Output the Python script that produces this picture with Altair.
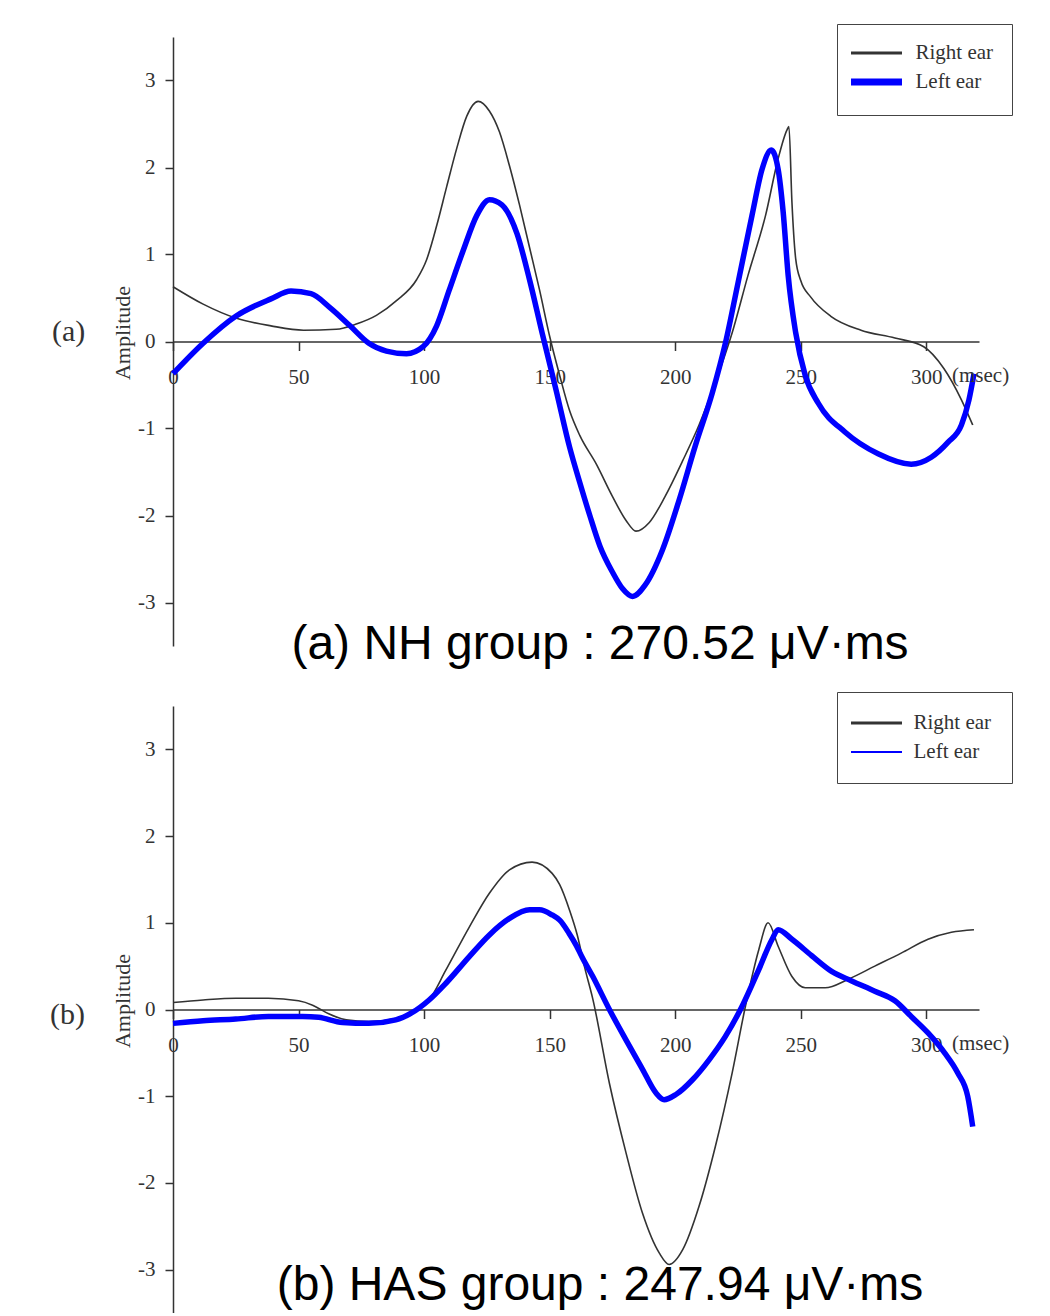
import altair as alt
import pandas as pd

# ---------------- data ----------------
# (a) NH group
a_right_ms = [0, 12, 25, 39, 52, 65, 73, 81, 89, 97, 101, 105, 109, 113, 117, 121.5, 126, 130, 134, 138,
              142, 146, 150, 154, 158, 162, 168.6, 175, 180.5, 184.4, 189.7, 196, 203, 209.5, 216, 222.7,
              229, 236, 241, 244.5, 245.3, 246.5, 248, 250, 254, 262, 274, 287.5, 299, 307, 314, 318.5]
a_right_amp = [0.63, 0.43, 0.27, 0.18, 0.13, 0.14, 0.20, 0.30, 0.47, 0.71, 0.94, 1.33, 1.78, 2.22, 2.59, 2.76,
               2.65, 2.41, 2.02, 1.57, 1.08, 0.59, 0.06, -0.39, -0.80, -1.08, -1.41, -1.78, -2.06, -2.18, -2.08,
               -1.78, -1.37, -0.96, -0.47, 0.10, 0.76, 1.45, 2.10, 2.43, 2.47, 1.60, 0.95, 0.70, 0.51, 0.29,
               0.13, 0.04, -0.06, -0.31, -0.67, -0.96]
a_left_ms = [0, 12, 25, 39, 47, 55, 62.5, 70.5, 78, 85, 93, 99.6, 105, 110, 115.5, 121, 126, 131, 137, 142,
             147, 152.5, 158, 162, 166, 170, 175, 179, 183, 188, 195, 201.6, 208, 214.8, 220, 225, 230.6, 234.6,
             238.3, 241, 243, 245, 248, 251.8, 257, 267.6, 280.8, 294, 302, 308.6, 314, 317, 319]
a_left_amp = [-0.37, -0.02, 0.29, 0.49, 0.58, 0.55, 0.39, 0.18, -0.02, -0.11, -0.14, -0.06, 0.18, 0.59, 1.04,
              1.45, 1.63, 1.57, 1.24, 0.71, 0.10, -0.55, -1.22, -1.62, -2.00, -2.35, -2.65, -2.84, -2.93, -2.80,
              -2.39, -1.82, -1.20, -0.59, -0.02, 0.67, 1.45, 1.98, 2.20, 1.98, 1.49, 0.76, 0.10, -0.39, -0.71,
              -1.04, -1.29, -1.41, -1.33, -1.16, -0.96, -0.67, -0.37]

# (b) HAS group
b_right_ms = [0, 12, 25, 38, 50, 55.6, 62, 69, 78, 89, 96.7, 102, 108.6, 118, 126, 134, 143, 151, 154, 158,
              161, 164, 167.2, 173.8, 180.4, 187, 193.7, 197.6, 203, 209.5, 216, 222.7, 228, 233.3, 237, 241,
              246.5, 251.8, 259.7, 269, 279.5, 290, 300.7, 310, 319]
b_right_amp = [0.08, 0.11, 0.13, 0.13, 0.10, 0.05, -0.05, -0.12, -0.14, -0.10, -0.01, 0.11, 0.45, 0.95, 1.34,
               1.61, 1.70, 1.57, 1.44, 1.14, 0.86, 0.48, 0.12, -0.85, -1.65, -2.35, -2.81, -2.94, -2.77, -2.27,
               -1.58, -0.73, 0.04, 0.69, 1.00, 0.73, 0.38, 0.25, 0.25, 0.35, 0.50, 0.65, 0.81, 0.89, 0.92]
b_left_ms = [0, 12, 25, 38, 51.6, 58, 67.5, 78, 88.7, 95, 102, 108.6, 118, 126, 134, 142, 146, 151, 154, 157.7,
             160.6, 163, 167.2, 173.8, 180.4, 187, 192.3, 195.6, 200.3, 206.9, 213.5, 220, 226.7, 233.3, 238.6,
             241, 246.5, 254.4, 262.3, 270.3, 279.5, 287.5, 294, 300.7, 307.3, 312.5, 316.5, 318.5]
b_left_amp = [-0.16, -0.13, -0.11, -0.08, -0.08, -0.09, -0.15, -0.16, -0.12, -0.04, 0.11, 0.30, 0.61, 0.86,
              1.05, 1.15, 1.15, 1.09, 1.03, 0.88, 0.74, 0.60, 0.38, 0.0, -0.35, -0.69, -0.96, -1.04, -0.98,
              -0.81, -0.58, -0.31, 0.04, 0.46, 0.81, 0.92, 0.81, 0.62, 0.44, 0.33, 0.21, 0.10, -0.08, -0.27,
              -0.50, -0.73, -1.0, -1.35]

ears = ["Right ear", "Left ear"]
ear_colors = ["#333333", "#0000ff"]
x_ticks = [0, 50, 100, 150, 200, 250, 300]
y_ticks = [-3, -2, -1, 0, 1, 2, 3]
titles = ["(a) NH group : 270.52 \u03bcV\u00b7ms", "(b) HAS group : 247.94 \u03bcV\u00b7ms"]
tags = ["(a)", "(b)"]

SERIF = "Liberation Serif"
SANS = "Liberation Sans"
INK = "#333333"
WIDTH = 806
# a long horizontal stroke as legend symbol (path scaled by sqrt(size)/2)
LEGEND_STROKE = "M-5,0H5"


def frame(ms, amp, ear):
    return pd.DataFrame({"ms": ms, "amp": amp, "ear": ear})


def panel(right, left, height, legend_y, legend_sw, legend_pad, legend_row, tag, tag_x, tag_y, title, title_y):
    x_enc = alt.X(
        "ms:Q",
        scale=alt.Scale(domain=[0, 321], nice=False, zero=False),
        axis=alt.Axis(values=x_ticks, offset=-height / 2, tickSize=9, labelPadding=16, title=None,
                      grid=False, labelExpr="'' + datum.value", labelFont=SERIF, labelFontSize=21,
                      labelColor=INK, domainColor=INK, tickColor=INK, domainWidth=1.5, tickWidth=1.5,
                      labelFlush=False, labelOverlap=False),
    )
    y_enc = alt.Y(
        "amp:Q",
        scale=alt.Scale(domain=[-3.5, 3.5], nice=False, zero=False),
        axis=alt.Axis(values=y_ticks, tickSize=8, labelPadding=10, title="Amplitude", grid=False,
                      labelExpr="'' + datum.value", labelFont=SERIF, labelFontSize=21, labelColor=INK,
                      domainColor=INK, tickColor=INK, domainWidth=1.5, tickWidth=1.5, labelOverlap=False,
                      titleFont=SERIF, titleFontSize=22, titleFontWeight="normal", titleColor=INK,
                      titleX=-51, titleY=height / 2 - 9, titleAngle=270, titleAlign="center",
                      titleBaseline="middle"),
    )
    color = alt.Color(
        "ear:N",
        scale=alt.Scale(domain=ears, range=ear_colors),
        legend=alt.Legend(title=None, orient="none", legendX=664, legendY=legend_y, direction="vertical",
                          padding=legend_pad, rowPadding=legend_row, symbolType=LEGEND_STROKE,
                          symbolSize=104, symbolStrokeWidth=legend_sw,
                          symbolOffset=10.5 - (legend_pad - 18.5), labelOffset=28.5 - (legend_pad - 18.5),
                          symbolFillColor="transparent",
                          labelFont=SERIF, labelFontSize=21, labelColor=INK, strokeColor="#444444",
                          fillColor="white"),
    )
    right_line = alt.Chart(frame(*right, "Right ear")).mark_line(
        interpolate="monotone", strokeWidth=1.6).encode(x=x_enc, y=y_enc, color=color)
    left_line = alt.Chart(frame(*left, "Left ear")).mark_line(
        interpolate="monotone", strokeWidth=5.5).encode(x=x_enc, y=y_enc, color=color)

    tag_text = alt.Chart(pd.DataFrame({"t": [tag]})).mark_text(
        font=SERIF, fontSize=30, align="left", baseline="middle", color=INK
    ).encode(text="t:N", x=alt.value(tag_x), y=alt.value(tag_y))
    unit_text = alt.Chart(pd.DataFrame({"t": ["(msec)"]})).mark_text(
        font=SERIF, fontSize=21, align="left", baseline="middle", color=INK
    ).encode(text="t:N", x=alt.value(779), y=alt.value(height / 2 + 34))
    title_text = alt.Chart(pd.DataFrame({"t": [title]})).mark_text(
        font=SANS, fontSize=48, align="center", baseline="alphabetic", color="#000000"
    ).encode(text="t:N", x=alt.value(427), y=alt.value(title_y))

    return alt.layer(right_line, left_line, unit_text, tag_text, title_text).properties(
        width=WIDTH, height=height)


panel_a = panel((a_right_ms, a_right_amp), (a_left_ms, a_left_amp), 609, -13,
                {"expr": "datum.value == 'Left ear' ? 7 : 3"}, 18.5, 4,
                tags[0], -121, 295, titles[0], 622)
panel_b = panel((b_right_ms, b_right_amp), (b_left_ms, b_left_amp), 607, -14,
                {"expr": "datum.value == 'Left ear' ? 2 : 3"}, 20.5, 7,
                tags[1], -123, 309, titles[1], 594)

chart = alt.vconcat(panel_a, panel_b, spacing=22).resolve_scale(
    color="independent"
).resolve_legend(
    color="independent"
).properties(
    padding={"left": 42, "top": 15, "right": 0, "bottom": 0},
    background="white",
).configure_view(strokeWidth=0, stroke="transparent")

chart.save("out.html", embed_options={"renderer": "svg", "actions": False})
